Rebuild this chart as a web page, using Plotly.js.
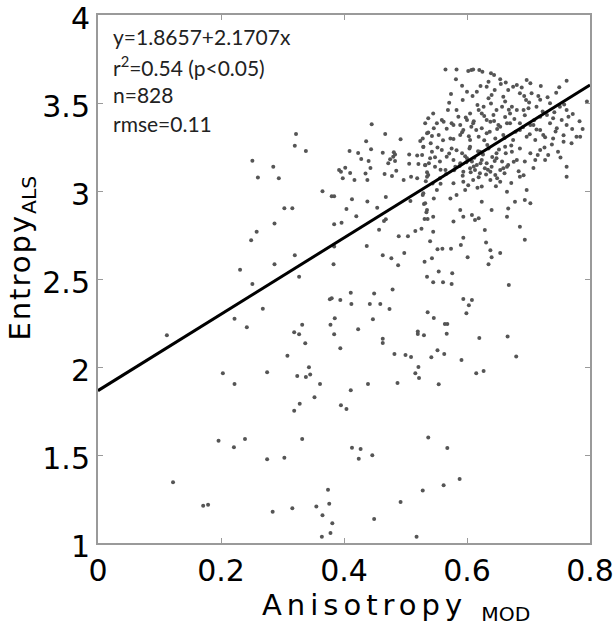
<!DOCTYPE html>
<html>
<head>
<meta charset="utf-8">
<script src="https://cdn.plot.ly/plotly-3.0.1.min.js"></script>
<style>
  html, body { margin: 0; padding: 0; background: #fff; }
  #chart { width: 615px; height: 633px; }
</style>
</head>
<body>
<div id="chart"></div>
<script>
// anisotropy (MODIS) vs entropy (ALS)
const anisotropy = [
  0.251,0.260,0.258,0.249,0.231,0.251,0.268,0.222,0.242,0.112,
  0.203,0.222,0.275,0.196,0.239,0.221,0.275,0.122,0.171,0.179,
  0.445,0.322,0.467,0.320,0.338,0.436,0.492,0.524,0.528,0.537,
  0.537,0.409,0.423,0.444,0.463,0.481,0.483,0.480,0.475,0.483,
  0.472,0.428,0.440,0.506,0.519,0.529,0.506,0.521,0.532,0.535,
  0.537,0.285,0.294,0.392,0.395,0.402,0.398,0.410,0.417,0.435,
  0.443,0.438,0.466,0.478,0.485,0.497,0.509,0.519,0.533,0.365,
  0.380,0.384,0.413,0.438,0.468,0.508,0.528,0.530,0.303,0.316,
  0.404,0.454,0.420,0.534,0.468,0.465,0.531,0.536,0.287,0.384,
  0.396,0.457,0.516,0.526,0.489,0.504,0.540,0.384,0.437,0.320,
  0.463,0.477,0.498,0.287,0.383,0.488,0.531,0.327,0.535,0.479,
  0.411,0.449,0.377,0.380,0.394,0.412,0.442,0.459,0.474,0.536,
  0.385,0.378,0.447,0.332,0.423,0.319,0.327,0.384,0.520,0.520,
  0.530,0.337,0.463,0.463,0.394,0.308,0.482,0.500,0.509,
  0.343,0.324,0.338,0.345,0.361,0.411,0.439,0.487,0.521,0.516,
  0.522,0.352,0.328,0.319,0.395,0.404,0.332,0.303,0.413,0.427,
  0.424,0.446,0.537,0.374,0.284,0.316,0.355,0.376,0.365,0.381,
  0.378,0.364,0.449,0.492,0.528,0.518,
  0.554,0.568,0.588,0.562,
  0.545,0.594,0.590,0.631,0.694,0.552,0.560,0.574,0.638,0.654,
  0.601,0.640,0.543,0.635,0.554,0.576,0.545,0.561,0.575,0.668,
  0.594,0.608,0.603,0.599,0.546,0.564,0.568,0.567,0.620,0.666,
  0.552,0.563,0.542,0.591,0.680,0.615,0.627,
  0.565,0.583,0.582,0.602,0.607,0.610,0.620,0.625,0.639,0.644,
  0.654,0.655,0.635,0.632,0.622,0.616,0.609,0.600,0.593,0.571,
  0.569,0.545,0.559,0.583,0.586,0.600,0.605,0.619,0.635,0.640,
  0.645,0.667,0.675,0.681,0.697,0.703,0.720,0.750,0.762,0.686,
  0.693,0.696,0.705,0.716,0.731,0.735,0.751,0.762,0.713,0.659,
  0.662,0.657,0.673,0.681,0.670,0.692,0.700,0.648,0.643,0.632,
  0.624,0.627,0.719,0.730,0.740,0.754,0.765,0.795,0.551,0.575,
  0.589,0.607,0.651,0.665,0.686,0.708,
  0.532,0.546,0.562,0.578,0.594,0.610,0.624,0.638,0.654,0.670,0.686,0.703,0.719,0.735,0.746,0.762,0.778,0.784,
  0.535,0.554,0.573,0.589,0.605,0.619,0.632,0.646,0.659,0.675,0.697,0.711,0.724,0.740,0.757,0.770,
  0.529,0.543,0.559,0.575,0.592,0.605,0.621,0.635,0.648,0.662,0.673,0.686,0.703,0.719,0.732,0.748,
  0.527,0.540,0.556,0.567,0.578,0.589,0.600,0.608,0.616,0.624,0.632,0.640,0.648,0.657,0.667,0.681,0.694,0.711,0.727,
  0.532,0.548,0.565,0.581,0.594,0.605,0.613,0.621,0.629,0.638,0.646,0.654,0.665,0.762,0.762,
  0.535,0.556,0.578,0.594,0.610,0.624,0.638,0.654,0.686,
  0.529,0.546,0.573,0.583,0.597,0.624,0.665,0.678,0.694,0.697,0.703,0.532,0.535,
  0.545,0.589,0.608,0.619,0.640,0.667,0.665,0.594,0.613,0.578,0.686,0.629,
  // dense core around the fit line
  0.571,0.583,0.597,0.604,0.612,0.618,0.626,0.633,0.641,0.652,
  0.663,0.672,0.588,0.599,0.611,0.622,0.634,0.645,0.659,0.676,
  0.566,0.579,0.593,0.606,0.619,0.631,0.649,0.661,0.684,0.557,
  0.602,0.617,0.647,0.672,0.692,0.708,0.715,0.726,0.738,0.752,
  0.578,0.592,0.603,0.615,0.628,0.637,0.649,0.661,0.679,0.691,
  0.702,0.713,0.727,0.744,0.757,0.771,0.598,0.611,0.628,0.644,
  0.662,0.677,0.694,0.709,0.723,0.742,0.758,0.772,0.783,0.788,
  0.617,0.639,0.668,0.701,0.719,0.745,0.689,0.663,0.592,0.574,
  0.541,0.552,0.548,0.561,0.538,0.557,0.544,0.551,0.567,0.543
];
const entropy = [
  3.172,3.076,2.769,2.720,2.553,2.472,2.331,2.274,2.226,2.180,
  1.964,1.903,1.970,1.581,1.591,1.544,1.476,1.345,1.212,1.218,
  3.379,3.324,3.324,3.257,3.227,3.282,3.294,3.284,3.299,3.333,
  3.413,3.227,3.216,3.237,3.218,3.220,3.208,3.195,3.180,3.170,
  3.157,3.182,3.170,3.208,3.201,3.250,3.155,3.153,3.146,3.106,
  3.091,3.138,3.072,3.119,3.110,3.132,3.072,3.102,3.063,3.100,
  3.131,3.063,3.097,3.085,3.115,3.063,3.081,3.072,3.055,2.998,
  2.970,2.970,2.953,2.941,2.966,2.943,2.977,2.926,2.902,2.902,
  2.898,2.905,2.856,2.879,2.839,2.830,2.841,2.841,2.816,2.811,
  2.820,2.780,2.773,2.786,2.743,2.743,2.714,2.684,2.688,2.635,
  2.635,2.618,2.648,2.584,2.584,2.578,2.598,2.513,2.513,2.441,
  2.422,2.417,2.385,2.390,2.381,2.358,2.358,2.358,2.330,2.311,
  2.277,2.240,2.271,2.240,2.214,2.197,2.186,2.186,2.201,2.188,
  2.180,2.135,2.161,2.136,2.106,2.064,2.074,2.068,2.057,
  1.998,1.949,1.943,1.958,1.903,1.868,1.903,1.909,2.000,1.964,
  1.938,1.828,1.791,1.752,1.782,1.761,1.591,1.485,1.541,1.534,
  1.479,1.498,1.600,1.303,1.178,1.197,1.208,1.223,1.157,1.112,
  1.057,1.036,1.136,1.233,1.299,1.036,
  1.902,1.540,1.364,1.328,
  2.769,2.735,2.693,2.708,2.723,2.669,2.672,2.672,2.663,2.648,
  2.623,2.623,2.618,2.584,2.542,2.532,2.481,2.481,2.472,2.466,
  2.386,2.381,2.351,2.305,2.278,2.244,2.244,2.189,2.165,2.174,
  2.095,2.074,2.055,2.040,2.059,1.964,1.977,
  3.691,3.691,3.635,3.682,3.687,3.691,3.687,3.678,3.669,3.659,
  3.635,3.608,3.621,3.593,3.597,3.564,3.540,3.564,3.517,3.502,
  3.460,3.441,3.403,3.460,3.422,3.403,3.441,3.460,3.527,3.545,
  3.574,3.574,3.593,3.602,3.631,3.612,3.597,3.589,3.627,3.556,
  3.540,3.517,3.556,3.540,3.532,3.498,3.479,3.460,3.479,3.536,
  3.508,3.479,3.479,3.460,3.441,3.460,3.470,3.460,3.432,3.403,
  3.441,3.479,3.422,3.432,3.413,3.403,3.422,3.508,3.385,3.385,
  3.375,3.365,3.375,3.385,3.385,3.375,
  3.385,3.356,3.394,3.375,3.347,3.385,3.356,3.394,3.365,3.385,3.347,3.375,3.347,3.385,3.356,3.375,3.308,3.308,
  3.328,3.318,3.299,3.318,3.290,3.308,3.328,3.299,3.318,3.290,3.308,3.290,3.318,3.299,3.280,3.271,
  3.252,3.223,3.233,3.242,3.214,3.252,3.223,3.242,3.214,3.252,3.223,3.242,3.214,3.233,3.205,3.223,
  3.205,3.186,3.167,3.195,3.176,3.157,3.186,3.167,3.148,3.176,3.157,3.138,3.186,3.167,3.148,3.176,3.167,3.176,3.176,
  3.148,3.138,3.119,3.138,3.110,3.129,3.119,3.101,3.129,3.110,3.091,3.119,3.138,3.138,3.081,
  3.081,3.072,3.044,3.053,3.063,3.025,3.063,3.053,3.081,
  2.987,2.958,2.958,2.977,3.006,2.939,2.996,2.939,2.949,3.006,2.930,2.930,2.892,
  2.854,2.892,2.864,2.845,2.892,2.901,2.854,2.854,2.835,2.826,2.797,2.778,
  // dense core around the fit line
  3.213,3.231,3.198,3.241,3.189,3.226,3.207,3.262,3.193,3.236,
  3.214,3.259,3.142,3.164,3.139,3.158,3.121,3.171,3.129,3.166,
  3.097,3.118,3.087,3.106,3.078,3.094,3.072,3.101,3.112,3.041,
  3.033,3.018,3.027,3.046,3.089,3.131,3.204,3.247,3.264,3.191,
  3.296,3.334,3.311,3.347,3.289,3.336,3.352,3.301,3.337,3.362,
  3.322,3.349,3.306,3.338,3.317,3.352,3.418,3.397,3.426,3.398,
  3.421,3.409,3.431,3.402,3.451,3.447,3.492,3.438,3.396,3.352,
  3.489,3.497,3.462,3.503,3.518,3.558,3.588,3.617,3.598,3.551,
  3.271,3.247,3.192,3.288,3.158,3.121,3.043,3.006,3.354,3.312
];

// fitted line y = 1.8657 + 2.1707x, ends at the axis limits
const fitX = [0, 0.8];
const fitY = [1.8657, 3.6023];

const statLines = [
  'y=1.8657+2.1707x',
  'r<sup>2</sup>=0.54 (p&lt;0.05)',
  'n=828',
  'rmse=0.11'
];

const axisGrey = '#9a9a9a';
const tickFont = {family: 'DejaVu Sans, sans-serif', size: 30, color: '#000'};
const titleFont = {family: 'DejaVu Sans, sans-serif', size: 29, color: '#000'};

const traces = [
  {
    x: anisotropy,
    y: entropy,
    type: 'scatter',
    mode: 'markers',
    marker: {size: 4, color: '#555'},
    hoverinfo: 'skip'
  },
  {
    x: fitX,
    y: fitY,
    type: 'scatter',
    mode: 'lines',
    line: {color: '#000', width: 3}
  }
];

const axisCommon = {
  ticks: 'inside',
  ticklen: 5,
  tickcolor: axisGrey,
  showline: true,
  linecolor: axisGrey,
  linewidth: 2,
  mirror: 'ticks',
  showgrid: false,
  zeroline: false,
  tickfont: tickFont,
  ticklabeloverflow: 'allow'
};

const statNotes = statLines.map((t, i) => ({
  text: t,
  xref: 'paper',
  yref: 'paper',
  x: 0.027,
  y: 0.959 - i * 0.0547,
  xanchor: 'left',
  yanchor: 'middle',
  showarrow: false,
  font: {family: 'Lato, Open Sans, sans-serif', size: 21, color: '#222'}
}));

// axis titles as annotations so they sit where the original puts them
const titleNotes = [
  {
    text: "<span style='letter-spacing:5px'>Anisotropy&nbsp;</span><sub>MOD</sub>",
    xref: 'paper', yref: 'paper',
    x: 0.605, y: -0.122,
    xanchor: 'center', yanchor: 'middle',
    showarrow: false,
    font: titleFont
  },
  {
    text: "<span style='letter-spacing:2px'>Entropy</span><sub>ALS</sub>",
    xref: 'paper', yref: 'paper',
    x: -0.155, y: 0.54,
    xanchor: 'center', yanchor: 'middle',
    textangle: -90,
    showarrow: false,
    font: titleFont
  }
];

const layout = {
  width: 615,
  height: 633,
  showlegend: false,
  paper_bgcolor: '#fff',
  plot_bgcolor: '#fff',
  margin: {l: 98, r: 25, t: 15, b: 90},
  xaxis: Object.assign({
    range: [0, 0.8],
    tickvals: [0, 0.2, 0.4, 0.6, 0.8],
    ticktext: ['0', '0.2', '0.4', '0.6', '0.8']
  }, axisCommon),
  yaxis: Object.assign({
    range: [1, 4],
    tickvals: [1, 1.5, 2, 2.5, 3, 3.5, 4],
    ticktext: ['1', '1.5', '2', '2.5', '3', '3.5', '4'],
    ticklabelshift: 3
  }, axisCommon),
  annotations: statNotes.concat(titleNotes)
};

Plotly.newPlot('chart', traces, layout, {displayModeBar: false, staticPlot: true});
</script>
</body>
</html>
